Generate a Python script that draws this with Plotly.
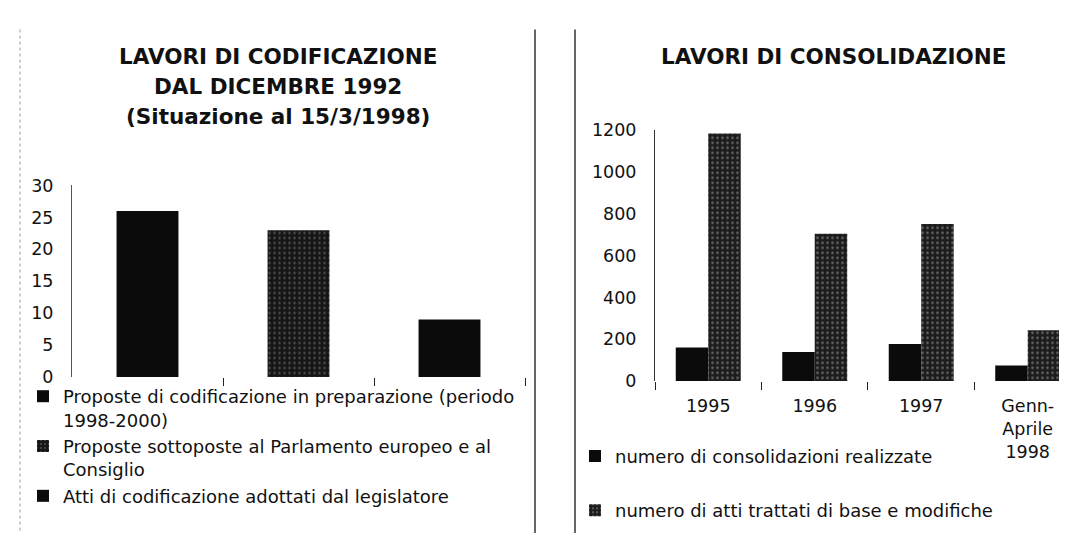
import plotly.graph_objects as go

W, H = 1067, 535

# ---- data ----
cod_categories = [
    "Proposte di codificazione in preparazione (periodo<br>1998-2000)",
    "Proposte sottoposte al Parlamento europeo e al<br>Consiglio",
    "Atti di codificazione adottati dal legislatore",
]
cod_values = [26, 23, 9]

cons_years = ["1995", "1996", "1997", "Genn-<br>Aprile<br>1998"]
cons_realizzate = [160, 138, 177, 74]
cons_atti = [1185, 705, 751, 243]
cons_series_names = ["numero di consolidazioni realizzate",
                     "numero di atti trattati di base e modifiche"]

left_title_lines = ["LAVORI DI CODIFICAZIONE", "DAL DICEMBRE 1992", "(Situazione al 15/3/1998)"]
right_title = "LAVORI DI CONSOLIDAZIONE"

# ---- helpers (pixel -> paper) ----
def px(x):
    return x / W

def py(y):
    return 1 - y / H

FONT = "DejaVu Sans"
speckle_left = dict(shape=".", bgcolor="#161616", fgcolor="#8a8a8a", size=5, solidity=0.18)
speckle_right = dict(shape=".", bgcolor="#1c1c1c", fgcolor="#b0b0b0", size=5, solidity=0.22)

fig = go.Figure()

for i, (name, val) in enumerate(zip(cod_categories, cod_values)):
    marker = dict(color="#0b0b0b", line=dict(width=0))
    if i == 1:
        marker = dict(color="#161616", pattern=speckle_left, line=dict(width=0))
    fig.add_trace(go.Bar(
        x=[i], y=[val], name=name, width=0.41, marker=marker,
        xaxis="x", yaxis="y", legend="legend", hoverinfo="skip",
    ))

fig.add_trace(go.Bar(
    x=cons_years, y=cons_realizzate, name=cons_series_names[0],
    marker=dict(color="#0b0b0b", line=dict(width=0)),
    xaxis="x2", yaxis="y2", legend="legend2", legendgroup="g1", hoverinfo="skip",
))
fig.add_trace(go.Bar(
    x=cons_years, y=cons_atti, name=cons_series_names[1],
    marker=dict(color="#1c1c1c", pattern=speckle_right, line=dict(width=0)),
    xaxis="x2", yaxis="y2", legend="legend2", legendgroup="g2", hoverinfo="skip",
))

tickfont = dict(family=FONT, size=17.5, color="#111")
legfont = dict(family=FONT, size=18, color="#111")

fig.update_layout(
    width=W, height=H,
    margin=dict(l=0, r=0, t=0, b=0),
    paper_bgcolor="white", plot_bgcolor="white",
    barmode="group", bargap=0.39, bargroupgap=0,
    font=dict(family=FONT, color="#111"),
    xaxis=dict(domain=[px(64), px(517)], range=[-0.5, 2.5], anchor="y",
               tickvals=[0.5, 1.5, 2.5], showticklabels=False,
               ticks="outside", ticklen=8, tickcolor="#222", tickwidth=1,
               showline=False, showgrid=False, zeroline=False, fixedrange=True),
    yaxis=dict(domain=[py(373), py(174)], range=[0, 30], anchor="x",
               tickvals=[0, 5, 10, 15, 20, 25, 30], tickfont=tickfont,
               ticks="", ticklabelstandoff=14,
               showline=True, linecolor="#555", linewidth=1,
               showgrid=False, zeroline=False, fixedrange=True),
    xaxis2=dict(domain=[px(647), 1.0], range=[-0.5, 3.444], anchor="y2",
                type="category", tickson="boundaries", tickfont=tickfont,
                ticks="outside", ticklen=8, tickcolor="#222", tickwidth=1,
                ticklabelstandoff=13,
                showline=False, showgrid=False, zeroline=False, fixedrange=True),
    yaxis2=dict(domain=[py(377), py(116.7)], range=[0, 1200], anchor="x2",
                tickvals=[0, 200, 400, 600, 800, 1000, 1200], tickfont=tickfont,
                ticks="", ticklabelstandoff=14,
                showline=True, linecolor="#333", linewidth=1,
                showgrid=False, zeroline=False, fixedrange=True),
    legend=dict(x=px(15), y=py(374), xanchor="left", yanchor="top",
                font=legfont, valign="top", bgcolor="rgba(0,0,0,0)",
                tracegroupgap=0, itemclick=False, itemdoubleclick=False),
    legend2=dict(x=px(567), y=py(436), xanchor="left", yanchor="top",
                 font=legfont, valign="top", bgcolor="rgba(0,0,0,0)",
                 tracegroupgap=28, itemclick=False, itemdoubleclick=False),
    showlegend=True,
)

# titles
title_font = dict(family=FONT, size=21.5, color="#111", weight="bold")
for line, yc in zip(left_title_lines, [40, 71, 102]):
    fig.add_annotation(text=line, x=px(270), y=py(yc), xref="paper", yref="paper",
                       xanchor="center", yanchor="middle", showarrow=False, font=title_font)
fig.add_annotation(text=right_title, x=px(825), y=py(40), xref="paper", yref="paper",
                   xanchor="center", yanchor="middle", showarrow=False, font=title_font)

# panel frame lines
fig.add_shape(type="line", xref="paper", yref="paper", x0=px(12), x1=px(12), y0=py(12), y1=0,
              line=dict(color="#9a9a9a", width=1, dash="dot"))
fig.add_shape(type="line", xref="paper", yref="paper", x0=px(527), x1=px(527), y0=py(12), y1=0,
              line=dict(color="#333", width=1.5))
fig.add_shape(type="line", xref="paper", yref="paper", x0=px(567), x1=px(567), y0=py(12), y1=0,
              line=dict(color="#333", width=1.5))

fig.write_html("out.html")
